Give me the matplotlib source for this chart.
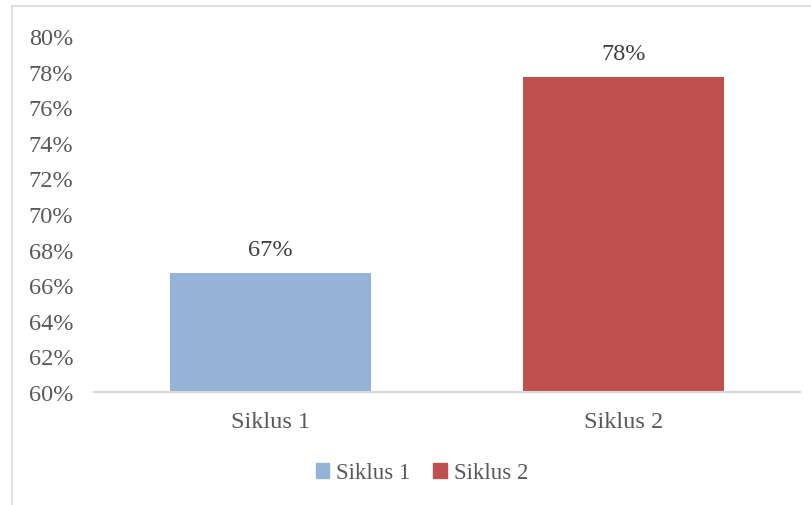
import matplotlib.pyplot as plt
from matplotlib.lines import Line2D
from matplotlib.patches import Patch

kategori = ["Siklus 1", "Siklus 2"]
nilai = [66.7, 77.7]
label_nilai = ["67%", "78%"]
warna = ["#95B3D7", "#C0504D"]
yticks = list(range(60, 81, 2))

plt.rcParams['font.family'] = ['Liberation Serif', 'DejaVu Serif']
abu = "#595959"

fig = plt.figure(figsize=(8.12, 5.06), dpi=100)
ax = fig.add_axes([94/812, 1-393/506, 706/812, 356/506])

x = range(len(kategori))
bars = ax.bar(x, [v - 60 for v in nilai], bottom=60, width=0.567, color=warna)
for b, t in zip(bars, label_nilai):
    ax.annotate(t, (b.get_x() + b.get_width()/2, b.get_y() + b.get_height()),
                xytext=(0, 9), textcoords="offset points", ha="center", va="bottom",
                fontsize=17.5, color="#404040")

ax.set_xlim(-0.5, 1.5)
ax.set_ylim(60, 80)
ax.set_yticks(yticks)
ax.set_yticklabels([f"{t}%" for t in yticks])
ax.set_xticks(list(x))
ax.set_xticklabels(kategori)
ax.tick_params(axis="both", length=0, labelsize=17.5, colors=abu)
ax.tick_params(axis="y", pad=15)
ax.tick_params(axis="x", pad=14)
for s in ["top", "right", "left"]:
    ax.spines[s].set_visible(False)
ax.spines["bottom"].set_color("#D9D9D9")
ax.spines["bottom"].set_linewidth(1.5)

handles = [Patch(color=c, label=k) for c, k in zip(warna, kategori)]
fig.legend(handles=handles, loc="center", bbox_to_anchor=(422/812, 1-474/506), ncol=2,
           frameon=False, fontsize=16.5, handlelength=0.6, handleheight=0.6,
           handletextpad=0.3, columnspacing=1.0, labelcolor=abu)

# bingkai chart (tepi kiri dan atas)
fig.add_artist(Line2D([12/812, 12/812], [0, 1-7/506], transform=fig.transFigure, color="#D9D9D9", lw=1.2))
fig.add_artist(Line2D([12/812, 1], [1-7/506, 1-7/506], transform=fig.transFigure, color="#D9D9D9", lw=1.2))

fig.savefig("out.png", dpi=100)
